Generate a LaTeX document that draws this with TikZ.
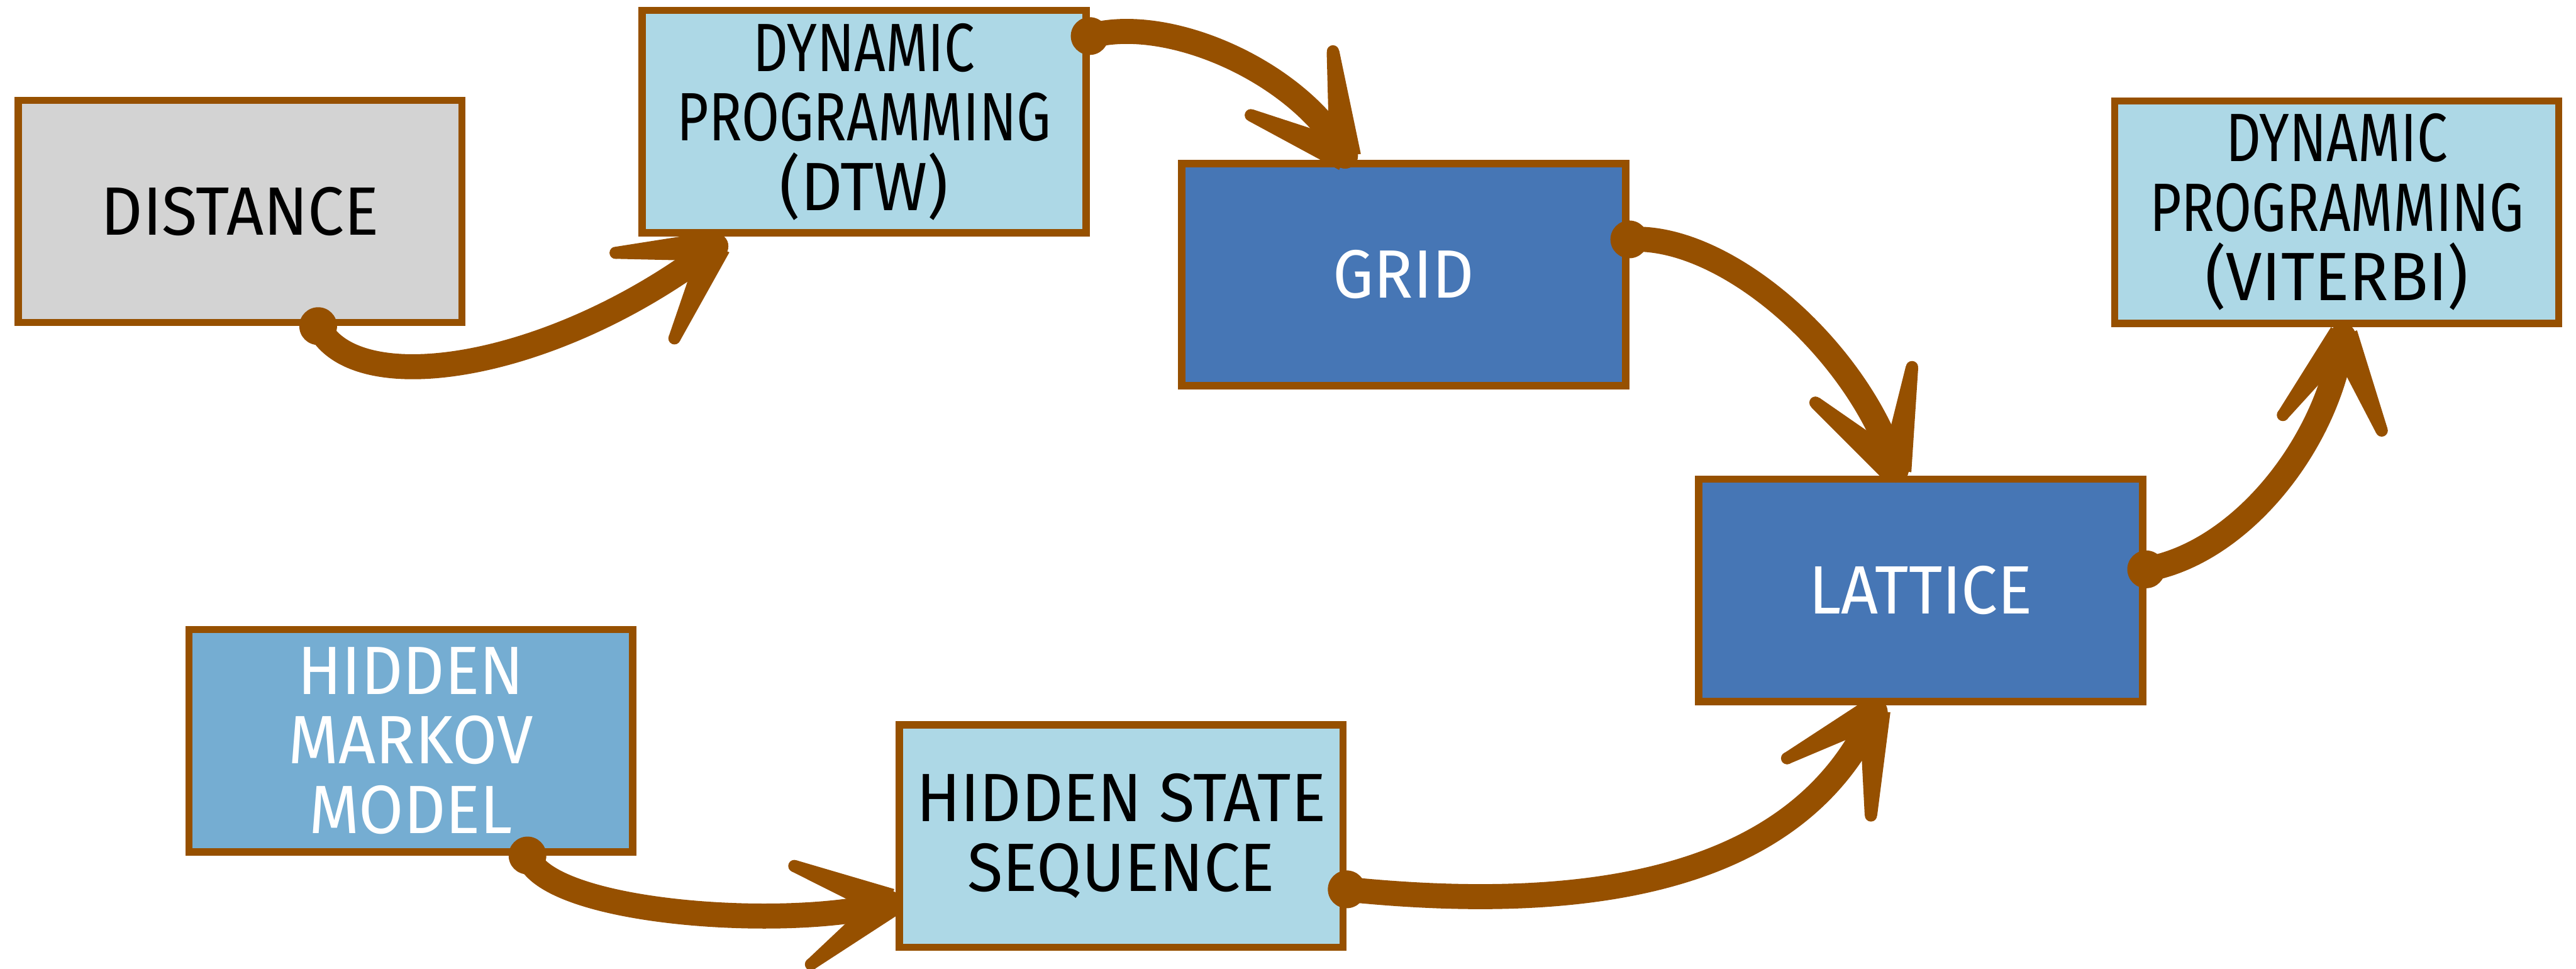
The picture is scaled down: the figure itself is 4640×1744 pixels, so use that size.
\documentclass[tikz,border=0pt]{standalone}
\usepackage{fontspec}
\setmainfont{Fira Sans}[FakeStretch=0.95]
\newfontfamily\narrowfont{Fira Sans}[FakeStretch=0.8]
\usetikzlibrary{calc}
\definecolor{brn}{RGB}{150,80,0}
\definecolor{boxgray}{RGB}{211,211,211}
\definecolor{lblue}{RGB}{173,216,230}
\definecolor{mblue}{RGB}{117,173,210}
\definecolor{dblue}{RGB}{70,118,181}
\newcommand\arrbarb[2]{%
  \coordinate (bE) at ($(#1)+(#2)$);
  \fill[brn] ($(#1)!0.15!90:(bE)$) -- ($(bE)!0.06!-90:(#1)$) -- ($(bE)!0.06!90:(#1)$) -- ($(#1)!0.15!-90:(bE)$) -- cycle;
  \fill[brn] (bE) circle[radius=11];
  \fill[brn] (#1) circle[radius=23];
}
\begin{document}
\begin{tikzpicture}[x=0.01cm,y=-0.01cm,
  box/.style={draw=brn,line width=0.13cm,minimum width=7.99cm,minimum height=4cm,inner sep=0pt,align=center,font=\fontsize{35}{35.6}\selectfont},
  graybox/.style={box,fill=boxgray,text=black},
  lightbox/.style={box,fill=lblue,text=black},
  midbox/.style={box,fill=mblue,text=white},
  darkbox/.style={box,fill=dblue,text=white},
  flow/.style={draw=brn,line width=0.45cm,line cap=round,line join=round},
  blob/.style={fill=brn}
]
\useasboundingbox (0,0) rectangle (4640,1744);

\node[graybox]  (dist) at (432.5,380.5) {DISTANCE};
\node[lightbox] (dtw)  at (1556.5,219)  {{\narrowfont DYNAMIC}\\{\narrowfont PROGRAMMING}\\(DTW)};
\node[darkbox]  (grid) at (2528.5,494.5) {GRID};
\node[lightbox] (vit)  at (4209,382)    {{\narrowfont DYNAMIC}\\{\narrowfont PROGRAMMING}\\(VITERBI)};
\node[darkbox]  (lat)  at (3459.5,1063) {LATTICE};
\node[midbox]   (hmm)  at (740,1333.5)  {HIDDEN\\MARKOV\\MODEL};
\node[lightbox] (hss)  at (2019.5,1505) {HIDDEN STATE\\SEQUENCE};

% start points
\coordinate (s1) at ([xshift=1.405cm]dist.south);
\coordinate (s2) at ([yshift=1.54cm]dtw.east);
\coordinate (s3) at ([yshift=0.635cm]grid.east);
\coordinate (s4) at ([xshift=2.1cm]hmm.south);
\coordinate (s5) at ([yshift=-0.96cm]hss.east);
\coordinate (s6) at ([yshift=0.38cm]lat.east);
% tips
\coordinate (t1) at ([xshift=-2.675cm,yshift=-0.175cm]dtw.south);
\coordinate (t2) at ([xshift=-1.055cm,yshift=0.075cm]grid.north);
\coordinate (t3) at ([xshift=-0.445cm,yshift=0.105cm]lat.north);
\coordinate (t4) at ([xshift=-0.125cm,yshift=-1.21cm]hss.west);
\coordinate (t5) at ([xshift=-0.825cm,yshift=-0.115cm]lat.south);
\coordinate (t6) at ([xshift=0.11cm,yshift=-0.165cm]vit.south);

\draw[flow] (s1) .. controls +(67,136) and +(-289,223) .. (t1);
\draw[flow] (s2) .. controls +(145,-40) and +(-78,-147) .. (t2);
\draw[flow] (s3) .. controls +(175,-11) and +(-65,-212) .. (t3);
\draw[flow] (s4) .. controls +(35,106) and +(-177,49) .. (t4);
\draw[flow] (s5) .. controls +(480,49) and +(-127,285) .. (t5);
\draw[flow] (s6) .. controls +(172,-30) and +(-25,190) .. (t6);

\foreach \s in {s1,s2,s3,s4,s5,s6} \fill[blob] (\s) circle[radius=34];

\arrbarb{t1}{-180,12}
\arrbarb{t1}{-74,166}
\arrbarb{t2}{-22,-188}
\arrbarb{t2}{-170,-73}
\arrbarb{t3}{29,-185}
\arrbarb{t3}{-145,-121}
\arrbarb{t4}{-170,-67}
\arrbarb{t4}{-140,110}
\arrbarb{t5}{-158,84}
\arrbarb{t5}{-7,187}
\arrbarb{t6}{-108,142}
\arrbarb{t6}{70,170}
\end{tikzpicture}
\end{document}
